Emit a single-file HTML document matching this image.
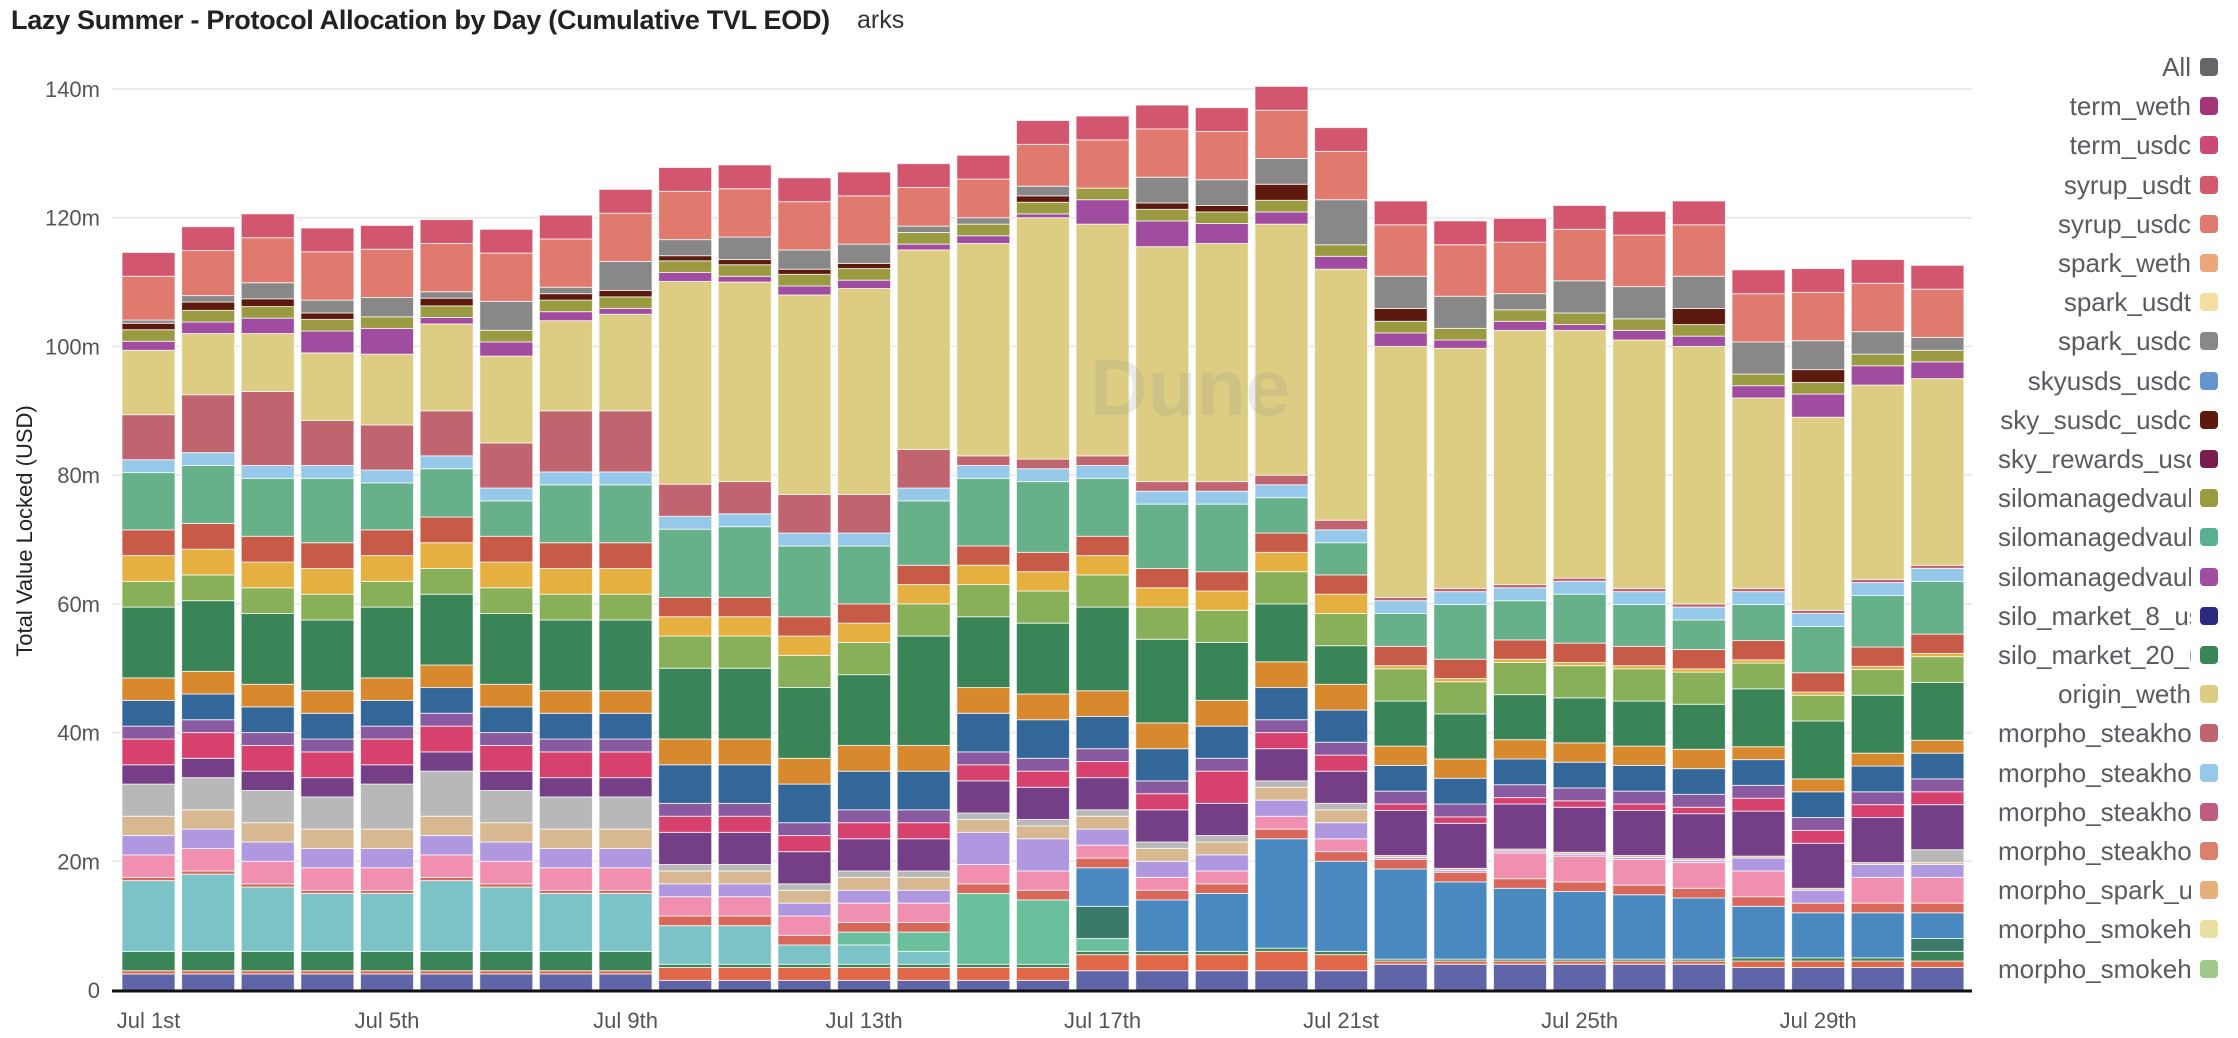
<!DOCTYPE html>
<html><head><meta charset="utf-8">
<style>
html,body{margin:0;padding:0;background:#fff;width:2238px;height:1038px;overflow:hidden;font-family:"Liberation Sans",sans-serif;}
#title{position:absolute;left:11px;top:5px;font-size:27px;font-weight:bold;color:#222;letter-spacing:-0.3px;}
#sub{position:absolute;left:857px;top:6px;font-size:25px;color:#333;}
svg{position:absolute;left:0;top:0;}
.leg{position:absolute;left:1998px;width:193px;height:32px;line-height:32px;text-align:right;overflow:hidden;white-space:nowrap;font-size:26px;color:#5a5a60;}
.sw{position:absolute;left:2200px;width:18px;height:18px;border-radius:4px;}
</style></head>
<body>
<div id="title">Lazy Summer - Protocol Allocation by Day (Cumulative TVL EOD)</div>
<div id="sub">arks</div>
<svg id="chart" width="2238" height="1038"></svg>
<div id="legend"></div>
<script>
const days = ["Jul 1st","Jul 2nd","Jul 3rd","Jul 4th","Jul 5th","Jul 6th","Jul 7th","Jul 8th","Jul 9th","Jul 10th","Jul 11th","Jul 12th","Jul 13th","Jul 14th","Jul 15th","Jul 16th","Jul 17th","Jul 18th","Jul 19th","Jul 20th","Jul 21st","Jul 22nd","Jul 23rd","Jul 24th","Jul 25th","Jul 26th","Jul 27th","Jul 28th","Jul 29th","Jul 30th","Jul 31st"];
const xTickLabels = ["Jul 1st","Jul 5th","Jul 9th","Jul 13th","Jul 17th","Jul 21st","Jul 25th","Jul 29th"];
const yTicks = [0,20,40,60,80,100,120,140];
const yTickLabels = ["0","20m","40m","60m","80m","100m","120m","140m"];

const base_navy = [2.5,2.5,2.5,2.5,2.5,2.5,2.5,2.5,2.5,1.5,1.5,1.5,1.5,1.5,1.5,1.5,3,3,3,3,3,4,4,4,4,4,4,3.5,3.5,3.5,3.5];
const base_orange = [.5,.5,.5,.5,.5,.5,.5,.5,.5,2,2,2,2,2,2,2,2.5,2.5,2.5,3,2.5,.5,.5,.5,.5,.5,.5,1,1,1,1];
const base_green = [3,3,3,3,3,3,3,3,3,.5,.5,.5,.5,.5,.5,.5,.5,.5,.5,.5,.5,.3,.3,.3,.3,.3,.3,.5,.5,.5,1.5];
const teal_big = [11,12,10,9,9,11,10,9,9,6,6,3,3,2,0,0,0,0,0,0,0,0,0,0,0,0,0,0,0,0,0];
const mint = [0,0,0,0,0,0,0,0,0,0,0,0,2,3,11,10,2,0,0,0,0,0,0,0,0,0,0,0,0,0,0];
const dark_teal = [0,0,0,0,0,0,0,0,0,0,0,0,0,0,0,0,5,0,0,0,0,0,0,0,0,0,0,0,0,0,2];
const big_blue = [0,0,0,0,0,0,0,0,0,0,0,0,0,0,0,0,6,8,9,17,14,14,12,11,10.5,10,9.5,8,7,7,4];
const red_low = [.5,.5,.5,.5,.5,.5,.5,.5,.5,1.5,1.5,1.5,1.5,1.5,1.5,1.5,1.5,1.5,1.5,1.5,1.5,1.5,1.5,1.5,1.5,1.5,1.5,1.5,1.5,1.5,1.5];
const pink = [3.5,3.5,3.5,3.5,3.5,3.5,3.5,3.5,3.5,3,3,3,3,3,3,3,2,2,2,2,2,0,0,4,4,4,4,4,0,4,4];
const lavender = [3,3,3,3,3,3,3,3,3,2,2,2,2,2,5,5,2.5,2.5,2.5,2.5,2.5,.3,.3,.3,.3,.3,.3,2,2,2,2];
const tan = [3,3,3,3,3,3,3,3,3,2,2,2,2,2,2,2,2,2,2,2,2,.3,.3,.3,.3,.3,.3,.3,.3,.3,.3];
const gray_light = [5,5,5,5,7,7,5,5,5,1,1,1,1,1,1,1,1,1,1,1,1,0,0,0,0,0,0,0,0,0,2];
const purple = [3,3,3,3,3,3,3,3,3,5,5,5,5,5,5,5,5,5,5,5,5,7,7,7,7,7,7,7,7,7,7];
const pinkred = [4,4,4,4,4,4,4,4,4,2.5,2.5,2.5,2.5,2.5,2.5,2.5,2.5,2.5,5,2.5,2.5,1,1,1,1,1,1,2,2,2,2];
const small_mix = [2,2,2,2,2,2,2,2,2,2,2,2,2,2,2,2,2,2,2,2,2,2,2,2,2,2,2,2,2,2,2];
const dark_blue = [4,4,4,4,4,4,4,4,4,6,6,6,6,6,6,6,5,5,5,5,5,4,4,4,4,4,4,4,4,4,4];
const orange = [3.5,3.5,3.5,3.5,3.5,3.5,3.5,3.5,3.5,4,4,4,4,4,4,4,4,4,4,4,4,3,3,3,3,3,3,2,2,2,2];
const green = [11,11,11,11,11,11,11,11,11,11,11,11,11,17,11,11,13,13,9,9,6,7,7,7,7,7,7,9,9,9,9];
const light_green = [4,4,4,4,4,4,4,4,4,5,5,5,5,5,5,5,5,5,5,5,5,5,5,5,5,5,5,4,4,4,4];
const yellow_orange = [4,4,4,4,4,4,4,4,4,3,3,3,3,3,3,3,3,3,3,3,3,.5,.5,.5,.5,.5,.5,.5,.5,.5,.5];
const red2 = [4,4,4,4,4,4,4,4,4,3,3,3,3,3,3,3,3,3,3,3,3,3,3,3,3,3,3,3,3,3,3];
const teal2 = [8.9,9,9,10,7.3,7.5,5.5,9,9,10.6,11,11,9,10,10.5,11,9,10,10.5,5.5,5,5.1,8.5,6.1,7.6,6.5,4.6,5.6,7.2,8,8.2];
const light_blue = [2,2,2,2,2,2,2,2,2,2,2,2,2,2,2,2,2,2,2,2,2,2,2,2,2,2,2,2,2,2,2];
const morpho_pink = [7,9,11.5,7,7,7,7,9.5,9.5,5,5,6,6,6,1.5,1.5,1.5,1.5,1.5,1.5,1.5,.5,.5,.5,.5,.5,.5,.5,.5,.5,.5];
const origin_weth = [10,9.5,9,10.5,11,13.5,13.5,14,15,31.5,31,31,32,31,33,37.5,36,36.5,37,39,39,39,37.3,39.5,38.5,38.6,40,29.6,30,30.2,29];
const purple_top = [1.4,1.8,2.4,3.4,4,1,2.2,1.4,0.9,1.4,0.9,1.4,1.3,0.9,1.2,0.6,3.8,4,3.1,1.9,2,2.1,1.3,1.4,0.9,1.5,1.6,1.9,3.6,3,2.6];
const olive = [1.8,1.8,1.8,1.8,1.8,1.8,1.8,1.8,1.8,1.8,1.8,1.8,1.8,1.8,1.8,1.8,1.8,1.8,1.8,1.8,1.8,1.8,1.8,1.8,1.8,1.8,1.8,1.8,1.8,1.8,1.8];
const brown = [1,1.3,1.2,1,0,1.2,0,1,1,0.8,0.8,0.8,0.8,0,0,1,0,1,1,2.5,0,2,0,0,0,0,2.5,0,2,0,0];
const spark_gray = [0.5,1,2.5,2,3,1,4.5,1,4.5,2.5,3.5,3,3,1,1,1.5,0,4,4,4,7,5,5,2.5,5,5,5,5,4.5,3.5,2];
const salmon = [6.8,7,7,7.5,7.5,7.5,7.5,7.5,7.5,7.5,7.5,7.5,7.5,6,6,6.5,7.5,7.5,7.5,7.5,7.5,8,8,8,8,8,8,7.5,7.5,7.5,7.5];
const red_top = [3.7,3.7,3.7,3.7,3.7,3.7,3.7,3.7,3.7,3.7,3.7,3.7,3.7,3.7,3.7,3.7,3.7,3.7,3.7,3.7,3.7,3.7,3.7,3.7,3.7,3.7,3.7,3.7,3.7,3.7,3.7];

const series = [
 ["base-navy",base_navy,"#6064a8"],["base-orange",base_orange,"#e06848"],["base-green",base_green,"#3a8558"],
 ["teal-big",teal_big,"#7cc3c8"],["mint",mint,"#6abf9c"],["dark-teal",dark_teal,"#3a7a6a"],["big-blue",big_blue,"#4a88c0"],
 ["red-low",red_low,"#d9685a"],["pink",pink,"#f08fb0"],["lavender",lavender,"#b098e0"],["tan",tan,"#d8b890"],
 ["gray-light",gray_light,"#b8b8b8"],["purple",purple,"#753f88"],["pinkred",pinkred,"#d6416e"],["small-mix",small_mix,"#8a5aa0"],
 ["dark-blue",dark_blue,"#336699"],["orange",orange,"#d8892e"],["green",green,"#3a8558"],["light-green",light_green,"#88b058"],
 ["yellow-orange",yellow_orange,"#e5b040"],["red2",red2,"#c85a48"],["teal2",teal2,"#66b08a"],["light-blue",light_blue,"#96c8ea"],
 ["morpho-pink",morpho_pink,"#c06470"],["origin-weth",origin_weth,"#dccd82"],["purple-top",purple_top,"#a04ca0"],
 ["olive",olive,"#9a9a40"],["brown",brown,"#5c1a0e"],["spark-gray",spark_gray,"#888888"],["salmon",salmon,"#e07a6e"],["red-top",red_top,"#d3566f"]
];

const legendNames = ["All","term_weth","term_usdc","syrup_usdt","syrup_usdc","spark_weth","spark_usdt","spark_usdc","skyusds_usdc","sky_susdc_usdc","sky_rewards_usd","silomanagedvault","silomanagedvault","silomanagedvault","silo_market_8_us","silo_market_20_u","origin_weth","morpho_steakhou","morpho_steakhou","morpho_steakhou","morpho_steakhou","morpho_spark_us","morpho_smokehou","morpho_smokehou"];
const legendColors = ["#666569","#a4357a","#cc4a78","#d3586c","#e07a6e","#eda57a","#f5dea0","#888888","#6495cd","#5c1a0e","#7a1f4d","#9a9a40","#5bb090","#a04ca0","#2a2a80","#3a8558","#dccd82","#c06470","#96c8ea","#c05a80","#d9806e","#e6b07a","#e8e0a0","#a0c888"];

const NS="http://www.w3.org/2000/svg";
const svg=document.getElementById('chart');
const X0=148.5, PITCH=59.63, BW=53;
const Y0=990, PXPER=901/140;
function xs(i){return X0+i*PITCH;}
function ys(v){return Y0-v*PXPER;}
function mk(tag,attrs){const e=document.createElementNS(NS,tag);for(const k in attrs)e.setAttribute(k,attrs[k]);svg.appendChild(e);return e;}

yTicks.forEach((t,i)=>{
  const g=mk('line',{x1:112,x2:1972,y1:ys(t),y2:ys(t),stroke:'#ebebef','stroke-width':2});
  
  
  const tx=mk('text',{x:100,y:ys(t)+8,'text-anchor':'end','font-size':22,fill:'#555','font-family':'Liberation Sans, sans-serif'});
  tx.textContent=yTickLabels[i];
  
  
});

days.forEach((d,i)=>{
  let acc=0;
  series.forEach(s=>{
    const v=s[1][i];
    if(v<=0)return;
    const r=mk('rect',{x:xs(i)-BW/2,y:ys(acc+v),width:BW,height:v*PXPER,fill:s[2],stroke:'#fff','stroke-width':1,'stroke-opacity':0.7});
    
    
    acc+=v;
  });
});

const ax=mk('line',{x1:112,x2:1972,y1:Y0+1,y2:Y0+1,stroke:'#111','stroke-width':3});



xTickLabels.forEach(l=>{
  const i=days.indexOf(l);
  const t=mk('text',{x:xs(i),y:1028,'text-anchor':'middle','font-size':22,fill:'#555','font-family':'Liberation Sans, sans-serif'});
  t.textContent=l;
  
  
});

const yt=mk('text',{x:0,y:0,transform:'translate(32,531) rotate(-90)','text-anchor':'middle','font-size':22,fill:'#222','font-family':'Liberation Sans, sans-serif'});
yt.textContent='Total Value Locked (USD)';



const wm=mk('text',{x:1090,y:415,'font-size':80,fill:'#888','fill-opacity':0.18,'font-family':'Liberation Sans, sans-serif','font-weight':'bold'});
wm.textContent='Dune';



const leg=document.getElementById('legend');
legendNames.forEach((n,i)=>{
  const y=67+i*39.2;
  const t=document.createElement('div');
  t.className='leg';
  t.style.top=(y-16)+'px';
  t.textContent=n;
  
  
  leg.appendChild(t);
  const s=document.createElement('div');
  s.className='sw';
  s.style.top=(y-9)+'px';
  s.style.background=legendColors[i];
  
  
  leg.appendChild(s);
});
</script>
</body></html>
